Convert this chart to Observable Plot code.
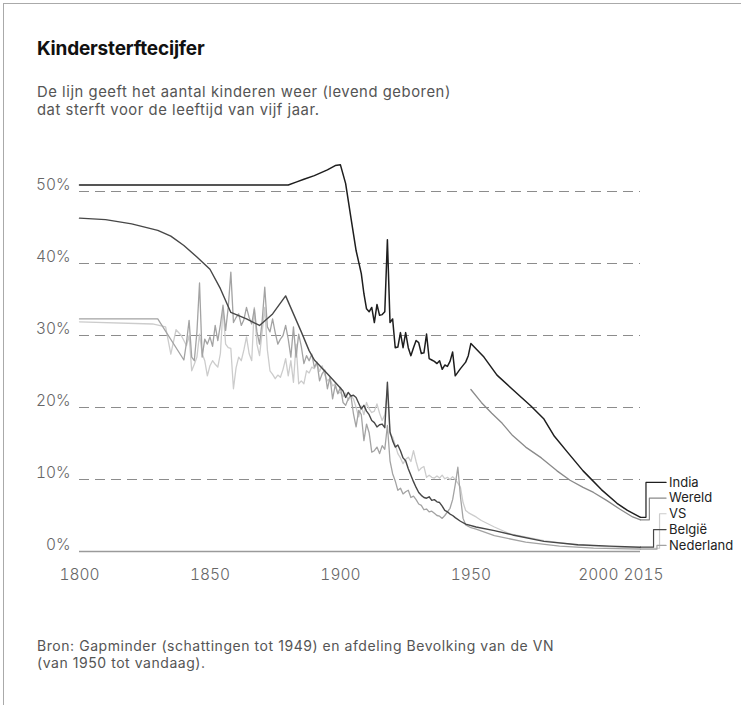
<!DOCTYPE html>
<html><head><meta charset="utf-8">
<script src="https://cdn.jsdelivr.net/npm/d3@7"></script>
<script src="https://cdn.jsdelivr.net/npm/@observablehq/plot@0.6"></script>
<style>
html,body{margin:0;padding:0;background:#fff;overflow:hidden;width:741px;height:705px;}
#card{position:absolute;left:3px;top:3px;width:800px;height:800px;border-left:1.5px solid #aaa;border-top:1.5px solid #aaa;}
.t{position:absolute;font-family:Inter, Roboto, sans-serif;white-space:nowrap;}
#title{left:37px;top:37px;font-size:19px;font-weight:700;color:#111;letter-spacing:-0.2px;}
#sub{left:37px;top:83px;font-size:14.8px;line-height:18px;color:#555;font-weight:400;letter-spacing:0.55px;}
#chart{position:absolute;left:0;top:140px;}
#cap{left:37px;top:637px;font-size:14px;line-height:17px;color:#555;font-weight:400;letter-spacing:0.55px;}
</style></head>
<body>
<div id="card"></div>
<div class="t" id="title">Kindersterftecijfer</div>
<div class="t" id="sub">De lijn geeft het aantal kinderen weer (levend geboren)<br>dat sterft voor de leeftijd van vijf jaar.</div>
<div id="chart"></div>
<div class="t" id="cap">Bron: Gapminder (schattingen tot 1949) en afdeling Bevolking van de VN<br>(van 1950 tot vandaag).</div>
<script>
// ---- data: [year, % of children dying before age five] ----
const india = [[1800,50.9],[1880,50.9],[1883,51.3],[1886,51.7],[1890,52.2],[1895,53.0],[1898,53.6],[1900,53.7],[1902,51.1],[1904,46.4],[1906,41.8],[1908,38.6],[1909,35.8],[1910,33.7],[1911,33.3],[1912,33.9],[1913,31.8],[1914,34.3],[1915,32.8],[1916,32.9],[1917,33.3],[1918,43.3],[1919,31.8],[1920,32.3],[1921,28.3],[1922,28.4],[1923,30.4],[1924,28.3],[1925,30.4],[1926,28.3],[1927,27.2],[1928,28.3],[1929,29.3],[1930,29.0],[1931,27.5],[1932,27.6],[1933,30.2],[1934,26.8],[1935,26.6],[1936,26.4],[1937,26.1],[1938,26.5],[1939,25.3],[1940,25.9],[1941,25.7],[1942,26.4],[1943,27.7],[1944,24.4],[1946,25.4],[1948,26.3],[1949,27.2],[1950,28.9],[1955,27.0],[1960,24.5],[1966,22.5],[1973,20.2],[1978,18.4],[1982,16.0],[1987,13.8],[1993,11.2],[2000,8.6],[2006,6.7],[2010,5.7],[2015,4.75]];
const wereld = [[1950,22.5],[1954,20.7],[1958,19.2],[1962,17.8],[1966,16.1],[1971,14.5],[1977,13.0],[1983,11.2],[1988,9.9],[1993,8.9],[1997,8.2],[2002,7.1],[2007,5.9],[2012,4.8],[2015,4.4]];
const belgie = [[1800,46.3],[1810,46.1],[1820,45.5],[1830,44.6],[1835,43.8],[1840,42.5],[1845,40.9],[1850,39.2],[1854,36.5],[1858,33.2],[1864,32.3],[1869,31.4],[1874,33.0],[1879,35.5],[1885,30.5],[1888,27.9],[1890,26.6],[1895,24.7],[1900,22.7],[1901,22.3],[1902,21.4],[1903,22.1],[1904,21.6],[1905,21.7],[1906,21.4],[1907,20.6],[1908,19.8],[1909,20.3],[1910,19.5],[1911,19.0],[1912,18.2],[1913,17.9],[1914,17.3],[1915,17.6],[1916,17.7],[1917,17.2],[1918,23.5],[1919,16.6],[1920,15.4],[1921,14.5],[1922,14.8],[1923,14.0],[1924,13.0],[1925,12.6],[1926,11.5],[1927,10.6],[1928,9.7],[1929,8.9],[1930,8.2],[1931,7.8],[1932,7.5],[1933,7.4],[1934,7.6],[1935,7.1],[1936,7.2],[1937,6.9],[1938,6.8],[1939,6.3],[1940,5.7],[1941,5.5],[1942,5.2],[1943,5.0],[1944,4.7],[1946,4.2],[1948,3.8],[1952,3.4],[1959,2.9],[1966,2.3],[1978,1.4],[1991,0.93],[2003,0.74],[2015,0.6]];
const nederland = [[1800,32.3],[1830,32.3],[1840,26.6],[1841,29.0],[1842,32.1],[1843,27.0],[1844,26.5],[1845,30.5],[1846,37.3],[1847,27.0],[1848,29.5],[1849,28.8],[1850,29.8],[1851,28.5],[1852,31.4],[1853,29.3],[1854,31.5],[1855,34.2],[1856,30.7],[1857,33.9],[1858,38.8],[1859,31.8],[1860,32.5],[1861,33.0],[1862,31.4],[1863,32.2],[1864,33.9],[1865,32.5],[1866,31.6],[1867,33.7],[1868,30.5],[1869,28.8],[1870,32.0],[1871,36.7],[1872,31.2],[1873,30.5],[1874,32.3],[1875,30.4],[1876,28.8],[1877,29.5],[1878,30.0],[1879,31.4],[1880,29.5],[1881,27.0],[1882,31.2],[1883,27.0],[1884,30.2],[1885,28.5],[1886,26.1],[1887,27.2],[1888,26.5],[1889,27.4],[1890,25.6],[1891,26.3],[1892,23.7],[1893,24.7],[1894,25.2],[1895,22.6],[1896,24.2],[1897,21.2],[1898,23.1],[1899,21.9],[1900,22.8],[1901,20.7],[1902,20.3],[1903,21.2],[1904,21.7],[1905,19.1],[1906,17.3],[1907,19.6],[1908,19.0],[1909,15.4],[1910,17.7],[1911,16.5],[1912,13.8],[1913,14.0],[1914,14.5],[1915,13.6],[1916,14.7],[1917,14.2],[1918,17.5],[1919,12.6],[1920,10.8],[1921,9.8],[1922,8.5],[1923,8.8],[1924,8.0],[1925,8.3],[1926,8.5],[1927,7.5],[1928,7.7],[1929,7.2],[1930,6.6],[1931,6.4],[1932,5.8],[1933,5.9],[1934,5.5],[1935,5.6],[1936,5.3],[1937,5.0],[1938,4.9],[1939,4.6],[1940,5.0],[1941,5.5],[1942,6.0],[1943,7.2],[1944,9.3],[1945,11.7],[1946,7.6],[1947,4.6],[1948,3.7],[1950,3.3],[1952,3.1],[1959,2.2],[1971,1.3],[1984,0.74],[1997,0.46],[2015,0.32]];
const vs = [[1800,31.9],[1828,31.6],[1833,31.2],[1835,27.4],[1837,30.8],[1839,30.0],[1840,29.3],[1841,28.6],[1842,30.0],[1843,25.1],[1844,26.0],[1845,27.0],[1846,30.2],[1847,27.5],[1848,26.5],[1849,24.4],[1850,25.8],[1851,26.5],[1852,26.0],[1853,25.6],[1854,27.5],[1855,33.9],[1856,28.8],[1857,28.3],[1858,28.2],[1859,22.6],[1860,25.5],[1861,27.0],[1862,26.5],[1863,28.0],[1864,29.8],[1865,27.5],[1866,26.5],[1867,33.9],[1868,28.8],[1869,27.2],[1870,30.5],[1871,33.9],[1872,28.0],[1873,25.1],[1874,24.6],[1875,24.0],[1876,24.5],[1877,24.2],[1878,25.3],[1879,26.8],[1880,24.4],[1881,26.5],[1882,23.5],[1883,28.8],[1884,23.3],[1885,23.7],[1886,23.3],[1887,25.1],[1888,24.8],[1889,25.6],[1890,25.4],[1891,26.1],[1892,25.0],[1893,25.8],[1894,24.5],[1895,23.7],[1896,24.0],[1897,23.0],[1898,23.3],[1899,22.0],[1900,22.1],[1901,21.5],[1902,22.0],[1903,21.0],[1904,21.6],[1905,21.2],[1906,20.0],[1907,18.7],[1908,20.2],[1909,19.0],[1910,20.7],[1911,19.8],[1912,19.3],[1913,19.5],[1914,20.5],[1915,19.2],[1916,18.2],[1917,19.0],[1918,22.4],[1919,16.3],[1920,15.9],[1921,14.8],[1922,13.6],[1923,13.0],[1924,12.2],[1925,12.8],[1926,13.1],[1927,12.5],[1928,14.0],[1929,12.5],[1930,11.2],[1931,11.6],[1932,11.8],[1933,10.3],[1934,10.6],[1935,10.3],[1936,10.2],[1937,10.5],[1938,10.2],[1939,10.6],[1940,10.1],[1941,10.3],[1942,10.0],[1943,10.4],[1944,10.0],[1945,9.5],[1946,8.9],[1947,6.8],[1948,5.7],[1949,5.4],[1950,5.2],[1952,4.8],[1954,4.3],[1959,3.4],[1965,2.45],[1978,1.5],[1991,0.9],[2015,0.45]];

const seriesNames = ["India", "Wereld", "VS", "België", "Nederland"];
const yTicks = [0, 10, 20, 30, 40, 50];
const xTicks = [1800, 1850, 1900, 1950, 2000, 2015];

// ---- styling / layout (not data) ----
const colors = {"India": "#1e1e1e", "Wereld": "#8a8a8a", "VS": "#cccccc", "België": "#474747", "Nederland": "#a3a3a3"};
const widths = {"India": 1.5, "Wereld": 1.3, "VS": 1.3, "België": 1.4, "Nederland": 1.3};
const seriesData = {"India": india, "Wereld": wereld, "VS": vs, "België": belgie, "Nederland": nederland};
// end-of-line legend placement (label y in % units, bend x in year units)
const labelY = {"India": 9.6, "Wereld": 7.42, "VS": 5.24, "België": 3.04, "Nederland": 0.84};
const bendX = {"India": 2017.1, "Wereld": 2018.4, "VS": 2022.3, "België": 2020.0, "Nederland": 2021.3};
const labelX = 2024.8;
// small horizontal nudges so the two close end ticks do not touch
const xTickNudge = {2000: -3, 2015: 3};

const toRows = arr => arr.map(([year, value]) => ({year, value}));
const drawOrder = ["VS", "Nederland", "België", "Wereld", "India"];

const lineMarks = drawOrder.map(name => Plot.line(toRows(seriesData[name]), {
  x: "year", y: "value", stroke: colors[name], strokeWidth: widths[name], strokeLinejoin: "round"
}));

const connectorMarks = drawOrder.map(name => {
  const arr = seriesData[name];
  const end = arr[arr.length - 1];
  const pts = [
    {year: end[0], value: end[1]},
    {year: bendX[name], value: end[1]},
    {year: bendX[name], value: labelY[name]},
    {year: labelX, value: labelY[name]}
  ];
  return Plot.line(pts, {x: "year", y: "value", stroke: colors[name], strokeWidth: 1.2});
});

const xAxisMarks = xTicks.map(t => Plot.axisX([t], {
  tickFormat: d => String(d), tickSize: 0, tickPadding: 17, fontSize: 15.5, fontWeight: 300,
  color: "#666", label: null, dx: xTickNudge[t] || 0
}));

const labels = seriesNames.map(name => ({name, y: labelY[name]}));

const chart = Plot.plot({
  width: 741,
  height: 460,
  marginLeft: 79,
  marginRight: 101,
  marginTop: 51,
  marginBottom: 49,
  x: {domain: [1800, 2015], label: null},
  y: {domain: [0, 50], label: null},
  style: {fontFamily: "Inter, Roboto, sans-serif", background: "transparent", overflow: "visible"},
  marks: [
    Plot.ruleY(yTicks.filter(d => d > 0), {x1: 1800, x2: 2015, stroke: "#8c8c8c", strokeWidth: 1.2, strokeDasharray: "10,6"}),
    Plot.ruleY([0], {x1: 1800, x2: 2015, stroke: "#9a9a9a", strokeWidth: 1.5}),
    Plot.axisY(yTicks, {tickFormat: d => d + "%", tickSize: 0, tickPadding: 9, fontSize: 15.5, fontWeight: 300, dy: -6, color: "#666", label: null}),
    ...xAxisMarks,
    ...lineMarks,
    ...connectorMarks,
    Plot.text(labels, {x: () => labelX, y: "y", text: "name", textAnchor: "start", dx: 3, fontSize: 13, fill: "#222"})
  ]
});
document.getElementById("chart").appendChild(chart);
</script>
</body></html>
